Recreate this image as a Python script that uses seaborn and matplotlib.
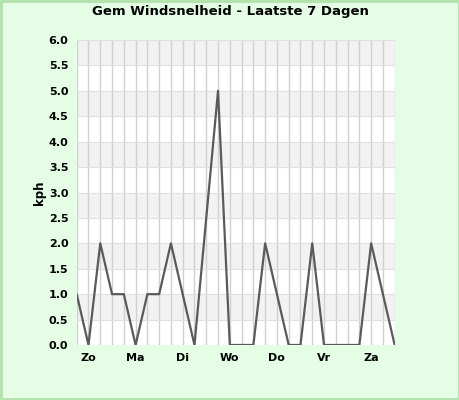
import numpy as np
import pandas as pd
import matplotlib
matplotlib.use("Agg")
import matplotlib.pyplot as plt
import seaborn as sns

# Data: average wind speed, 4 readings per day
days = ["Zo", "Ma", "Di", "Wo", "Do", "Vr", "Za"]
wind = [1.0, 0.0, 2.0, 1.0, 1.0, 0.0, 1.0, 1.0, 2.0, 1.0, 0.0, 2.5, 5.0, 0.0,
        0.0, 0.0, 2.0, 1.0, 0.0, 0.0, 2.0, 0.0, 0.0, 0.0, 0.0, 2.0, 1.0, 0.0]
yticks = [0.0, 0.5, 1.0, 1.5, 2.0, 2.5, 3.0, 3.5, 4.0, 4.5, 5.0, 5.5, 6.0]

df = pd.DataFrame({"idx": range(len(wind)), "kph": wind})

sns.set_style("white")
plt.rcParams["font.family"] = ["DejaVu Sans"]
plt.rcParams["text.color"] = "black"
plt.rcParams["xtick.color"] = "black"
plt.rcParams["ytick.color"] = "black"
plt.rcParams["axes.labelcolor"] = "black"

fig = plt.figure(figsize=(4.6, 4.0), dpi=100)
fig.patch.set_facecolor("#e4fde4")
fig.patch.set_edgecolor("#b5e3ad")
fig.patch.set_linewidth(2.5)
ax = fig.add_axes([76.7 / 460, 55 / 400, 318 / 460, 305 / 400])

# -----------------------------
# alternating horizontal bands
# -----------------------------
for i in range(len(yticks) - 1):
    color = "#f2f2f2" if i % 2 == 1 else "white"
    ax.axhspan(yticks[i], yticks[i + 1], color=color, zorder=0, lw=0)

for x in df["idx"]:
    ax.axvline(x, color="#d0d0d0", lw=1, zorder=1)
for y in yticks:
    ax.axhline(y, color="#e0e0e0", lw=0.8, zorder=1)

sns.lineplot(data=df, x="idx", y="kph", ax=ax, color="#5a5a5a", lw=1.6, zorder=3)

ax.set_xlim(0, len(wind) - 1)
ax.set_ylim(0, 6)
ax.set_yticks(yticks)
ax.set_yticklabels([f"{v:.1f}" for v in yticks], fontsize=8, fontweight="bold")
ax.set_xticks([1 + 4 * i for i in range(len(days))])
ax.set_xticklabels(days, fontsize=8, fontweight="bold")
ax.tick_params(length=0, pad=6)
ax.set_xlabel("")
ax.set_ylabel("kph", fontsize=8.5, fontweight="bold", labelpad=2)
for s in ax.spines.values():
    s.set_visible(False)

fig.suptitle("Gem Windsnelheid - Laatste 7 Dagen", fontsize=9.5,
             fontweight="bold", y=0.972, va="center")

fig.savefig("out.png", dpi=100, facecolor=fig.get_facecolor(),
            edgecolor=fig.get_edgecolor())
